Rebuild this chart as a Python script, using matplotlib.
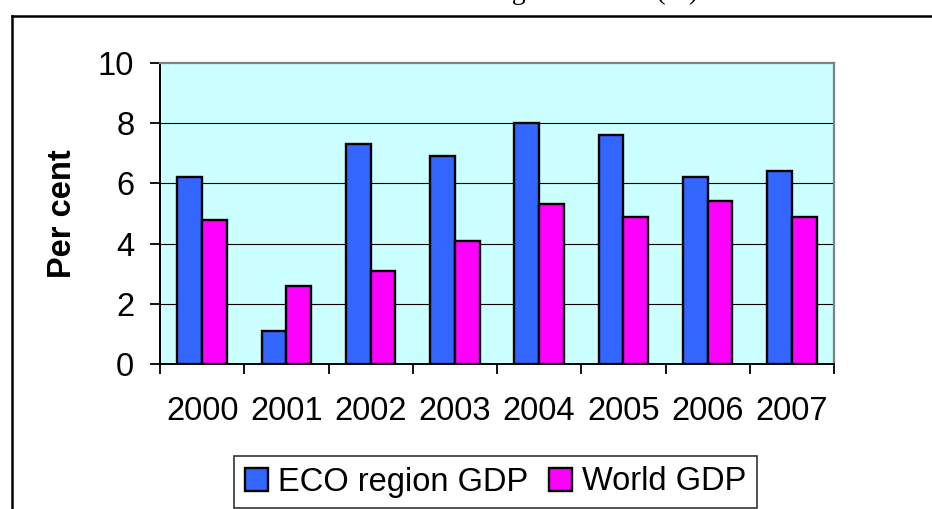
import matplotlib
matplotlib.use("Agg")
import matplotlib.pyplot as plt
import numpy as np
from matplotlib.lines import Line2D

years = ["2000", "2001", "2002", "2003", "2004", "2005", "2006", "2007"]
eco_gdp = [6.2, 1.1, 7.3, 6.9, 8.0, 7.6, 6.2, 6.4]
world_gdp = [4.8, 2.6, 3.1, 4.1, 5.3, 4.9, 5.4, 4.9]
series_names = ["ECO region GDP", "World GDP"]
yticks = [0, 2, 4, 6, 8, 10]
title_text = "Real GDP growth rates (%)"
ylabel_text = "Per cent"

plt.rcParams['font.family'] = ['Liberation Sans', 'DejaVu Sans']
FS = 23.5

W, H = 932, 509
fig = plt.figure(figsize=(W / 100, H / 100), dpi=100)
ax = fig.add_axes([160 / W, 1 - 364.3 / H, 674 / W, 301.6 / H])
ax.set_facecolor('#CCFFFF')

x = np.arange(len(years))
w = 0.293
ax.bar(x - w / 2, eco_gdp, w, color='#3366FF', edgecolor='black', linewidth=1.7, zorder=3, label=series_names[0])
ax.bar(x + w / 2, world_gdp, w, color='#FF00FF', edgecolor='black', linewidth=1.7, zorder=3, label=series_names[1])

ax.set_xlim(-0.5, len(years) - 0.5)
ax.set_ylim(0, 10)
ax.set_yticks(yticks)
ax.set_yticklabels([str(v) for v in yticks])
for v in yticks[1:-1]:
    ax.axhline(v, color='black', linewidth=0.8, zorder=1)

ax.set_xticks(x)
ax.set_xticklabels(years)
ax.set_xticks(np.arange(len(years) + 1) - 0.5, minor=True)
ax.tick_params(axis='x', which='major', length=0, pad=23, labelsize=FS)
ax.tick_params(axis='x', which='minor', length=7.5, width=1.3, direction='out', color='black')
ax.tick_params(axis='y', length=7.5, width=1.3, direction='out', pad=11, labelsize=FS)

for s in ['left', 'bottom']:
    ax.spines[s].set_color('black')
    ax.spines[s].set_linewidth(1.4)
for s in ['top', 'right']:
    ax.spines[s].set_color('#808080')
    ax.spines[s].set_linewidth(1.6)

ax.set_ylabel(ylabel_text, fontsize=FS, fontweight='bold')
ax.yaxis.set_label_coords(-0.121, 0.5)

leg = fig.legend(loc='center', bbox_to_anchor=(495.5 / W, 1 - 482 / H), ncol=2,
                 fontsize=FS, frameon=True, fancybox=False, edgecolor='black',
                 handlelength=0.7, handleheight=0.7, handletextpad=0.3,
                 columnspacing=0.65, borderpad=0.32, borderaxespad=0)
leg.get_frame().set_linewidth(1.2)

# outer frame
fig.add_artist(Line2D([11.7 / W, 11.7 / W], [0, 1 - 16 / H], transform=fig.transFigure, color='black', linewidth=1.8))
fig.add_artist(Line2D([11.7 / W, 1], [1 - 16 / H, 1 - 16 / H], transform=fig.transFigure, color='black', linewidth=1.8))

# partially cut title (cut off by the top edge, as in the reference)
fig.text(698 / W, 1 + 1 / H, title_text, ha='right', va='baseline',
         fontsize=20, family=['Liberation Serif', 'DejaVu Serif'])

fig.savefig('out.png', dpi=100)
